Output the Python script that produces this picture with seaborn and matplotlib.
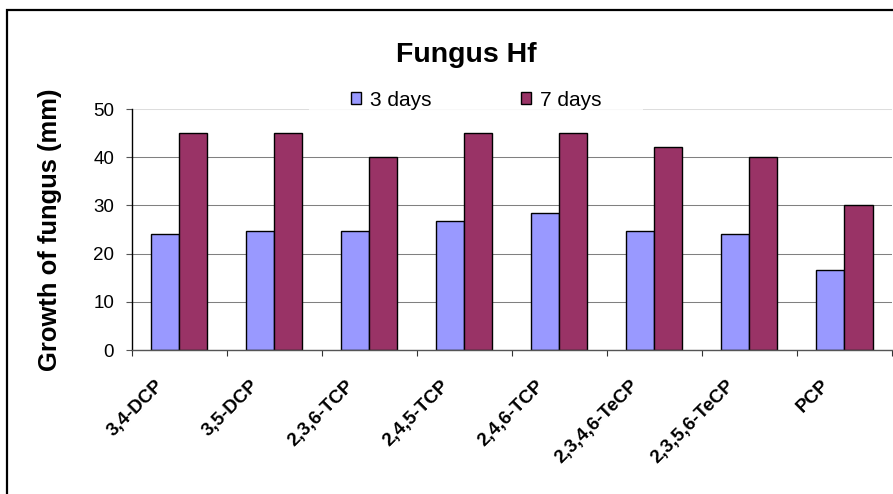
import matplotlib
matplotlib.use("Agg")
import matplotlib.pyplot as plt
import matplotlib.transforms as mtransforms
from matplotlib.patches import Rectangle
import seaborn as sns
import pandas as pd

compounds = ["3,4-DCP", "3,5-DCP", "2,3,6-TCP", "2,4,5-TCP", "2,4,6-TCP",
             "2,3,4,6-TeCP", "2,3,5,6-TeCP", "PCP"]
days3 = [24, 24.7, 24.7, 26.8, 28.5, 24.7, 24, 16.5]
days7 = [45, 45, 40, 45, 45, 42.2, 40, 30]
series = ["3 days", "7 days"]
colors = ["#9999FF", "#993366"]
yticks = [0, 10, 20, 30, 40, 50]

df = pd.DataFrame({
    "compound": compounds * 2,
    "growth": days3 + days7,
    "period": [series[0]] * len(compounds) + [series[1]] * len(compounds),
})

sns.set_theme(style="white")
plt.rcParams["font.family"] = ["Liberation Sans", "DejaVu Sans"]
plt.rcParams["text.color"] = "black"
plt.rcParams["axes.labelcolor"] = "black"
plt.rcParams["xtick.color"] = "black"
plt.rcParams["ytick.color"] = "black"

W, H = 893, 494
fig = plt.figure(figsize=(W / 100, H / 100), dpi=100)
ax = fig.add_axes([131.5 / W, 1 - 350 / H, (892 - 131.5) / W, (350 - 109) / H])

sns.barplot(data=df, x="compound", y="growth", hue="period", order=compounds,
            hue_order=series, palette=colors, width=0.59, edgecolor="black",
            linewidth=1.0, saturation=1, ax=ax, zorder=2)

ax.set_xlim(-0.5, len(compounds) - 0.5)
ax.set_ylim(0, 50)
ax.set_yticks(yticks)
ax.set_yticklabels([str(v) for v in yticks], fontsize=13.5, color="black")
ax.grid(axis="y", color="#808080", linewidth=0.75)
ax.set_axisbelow(True)
ax.get_ygridlines()[-1].set_color("#dddddd")

for s in ["top", "right"]:
    ax.spines[s].set_visible(False)
ax.spines["left"].set_color("black")
ax.spines["left"].set_linewidth(1.0)
ax.spines["bottom"].set_color("#555555")
ax.spines["bottom"].set_linewidth(1.0)

# category boundary ticks
ax.set_xticks([i - 0.5 for i in range(len(compounds) + 1)], minor=True)
ax.tick_params(axis="x", which="minor", direction="out", length=4, width=0.8,
               color="#333333", bottom=True)
ax.tick_params(axis="x", which="major", length=0, pad=23.8)
ax.tick_params(axis="y", which="major", direction="out", length=4.5, width=0.8,
               color="#555555", left=True, pad=8, labelcolor="black")

ax.set_xticks(range(len(compounds)))
ax.set_xticklabels(compounds, rotation=45, ha="right", va="center",
                   rotation_mode="anchor", fontsize=13.5, fontweight="bold",
                   color="black")
offset = mtransforms.ScaledTranslation(-18 / 100, 0, fig.dpi_scale_trans)
for lab in ax.get_xticklabels():
    lab.set_transform(lab.get_transform() + offset)

ax.set_xlabel("")
ax.set_ylabel("Growth of fungus (mm)", fontsize=18.4, fontweight="bold",
              color="black")
ax.yaxis.set_label_coords((50 - 131.5) / (892 - 131.5), 0.5)
ax.yaxis.label.set_verticalalignment("center")

handles, labels = ax.get_legend_handles_labels()
if ax.get_legend() is not None:
    ax.get_legend().remove()
for h, c in zip(handles, colors):
    h.set_facecolor(c)
    h.set_edgecolor("black")
    h.set_linewidth(1.0)
leg = ax.legend(handles, labels, loc="center",
                bbox_to_anchor=(476 / W, 1 - 100 / H), bbox_transform=fig.transFigure,
                ncol=2, fontsize=15, frameon=True, fancybox=False,
                handlelength=0.5, handleheight=0.5, handletextpad=0.4,
                columnspacing=4.3, borderpad=2.0, borderaxespad=0,
                labelcolor="black")
leg.get_frame().set_facecolor("white")
leg.get_frame().set_edgecolor("none")
leg.set_zorder(1.5)

fig.text(466 / W, 1 - 61.7 / H, "Fungus Hf", ha="center", va="baseline",
         fontsize=20.5, fontweight="bold", color="black")

fig.add_artist(Rectangle((7 / W, -0.2), 1.5, 1 - 10 / H + 0.2,
                         transform=fig.transFigure, fill=False,
                         edgecolor="black", linewidth=1.6, zorder=10))

fig.savefig("out.png", dpi=100)
